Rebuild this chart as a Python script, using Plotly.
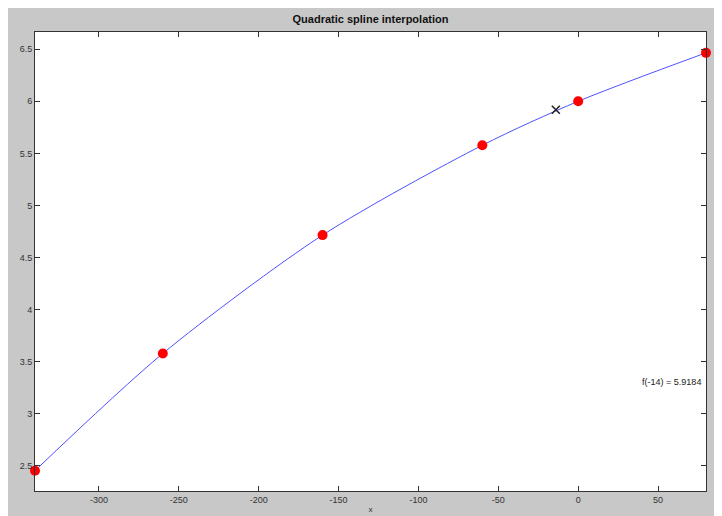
import plotly.graph_objects as go

# Data
x_nodes = [-340, -260, -160, -60, 0, 80]
y_nodes = [2.455, 3.58, 4.716, 5.578, 6.0, 6.465]
x_query = [-14]
y_query = [5.9184]
label_text = "f(-14) = 5.9184"
label_x = [40]
label_y = [3.3]
x_ticks = [-300, -250, -200, -150, -100, -50, 0, 50]
x_ticktext = ["-300", "-250", "-200", "-150", "-100", "-50", "0", "50"]
y_ticks = [2.5, 3, 3.5, 4, 4.5, 5, 5.5, 6, 6.5]
y_ticktext = ["2.5", "3", "3.5", "4", "4.5", "5", "5.5", "6", "6.5"]

W, H = 722, 516
ML, MR, MT, MB = 27, 24, 24, 31
pw, ph = W - ML - MR, H - MT - MB

fig = go.Figure()
fig.add_trace(go.Scatter(x=x_nodes, y=y_nodes, mode="lines",
                         line=dict(color="rgb(80,80,255)", width=1, shape="spline", smoothing=0.8),
                         hoverinfo="skip", showlegend=False))
fig.add_trace(go.Scatter(x=x_nodes, y=y_nodes, mode="markers",
                         marker=dict(color="red", size=10), showlegend=False, cliponaxis=False))
fig.add_trace(go.Scatter(x=x_query, y=y_query, mode="markers",
                         marker=dict(symbol="x-thin", size=8, line=dict(color="#222", width=1.6)),
                         showlegend=False))
fig.add_trace(go.Scatter(x=label_x, y=label_y, mode="text", text=[label_text],
                         textposition="middle right", cliponaxis=True,
                         textfont=dict(family="Liberation Sans", size=9, color="#222"),
                         showlegend=False))

axis_common = dict(showline=True, linecolor="#333", linewidth=1, mirror="ticks",
                   ticks="inside", ticklen=5, tickcolor="#333", showgrid=False, zeroline=False,
                   tickfont=dict(family="Liberation Sans", size=9, color="#333"))
fig.update_xaxes(range=[-340, 80], tickvals=x_ticks, ticktext=x_ticktext, **axis_common,
                 title=dict(text="x", font=dict(size=8, color="#333"), standoff=2))
fig.update_yaxes(range=[2.26, 6.665], tickvals=y_ticks, ticktext=y_ticktext, **axis_common)

fig.update_layout(
    width=W, height=H,
    margin=dict(l=ML, r=MR, t=MT, b=MB),
    paper_bgcolor="#c8c8c8", plot_bgcolor="white",
    title=dict(text="<b>Quadratic spline interpolation</b>", x=(ML + pw / 2) / W, xanchor="center",
               y=1 - 11 / H, yanchor="middle",
               font=dict(family="Liberation Sans", size=11, color="#111")),
)
fig.write_html("out.html")
